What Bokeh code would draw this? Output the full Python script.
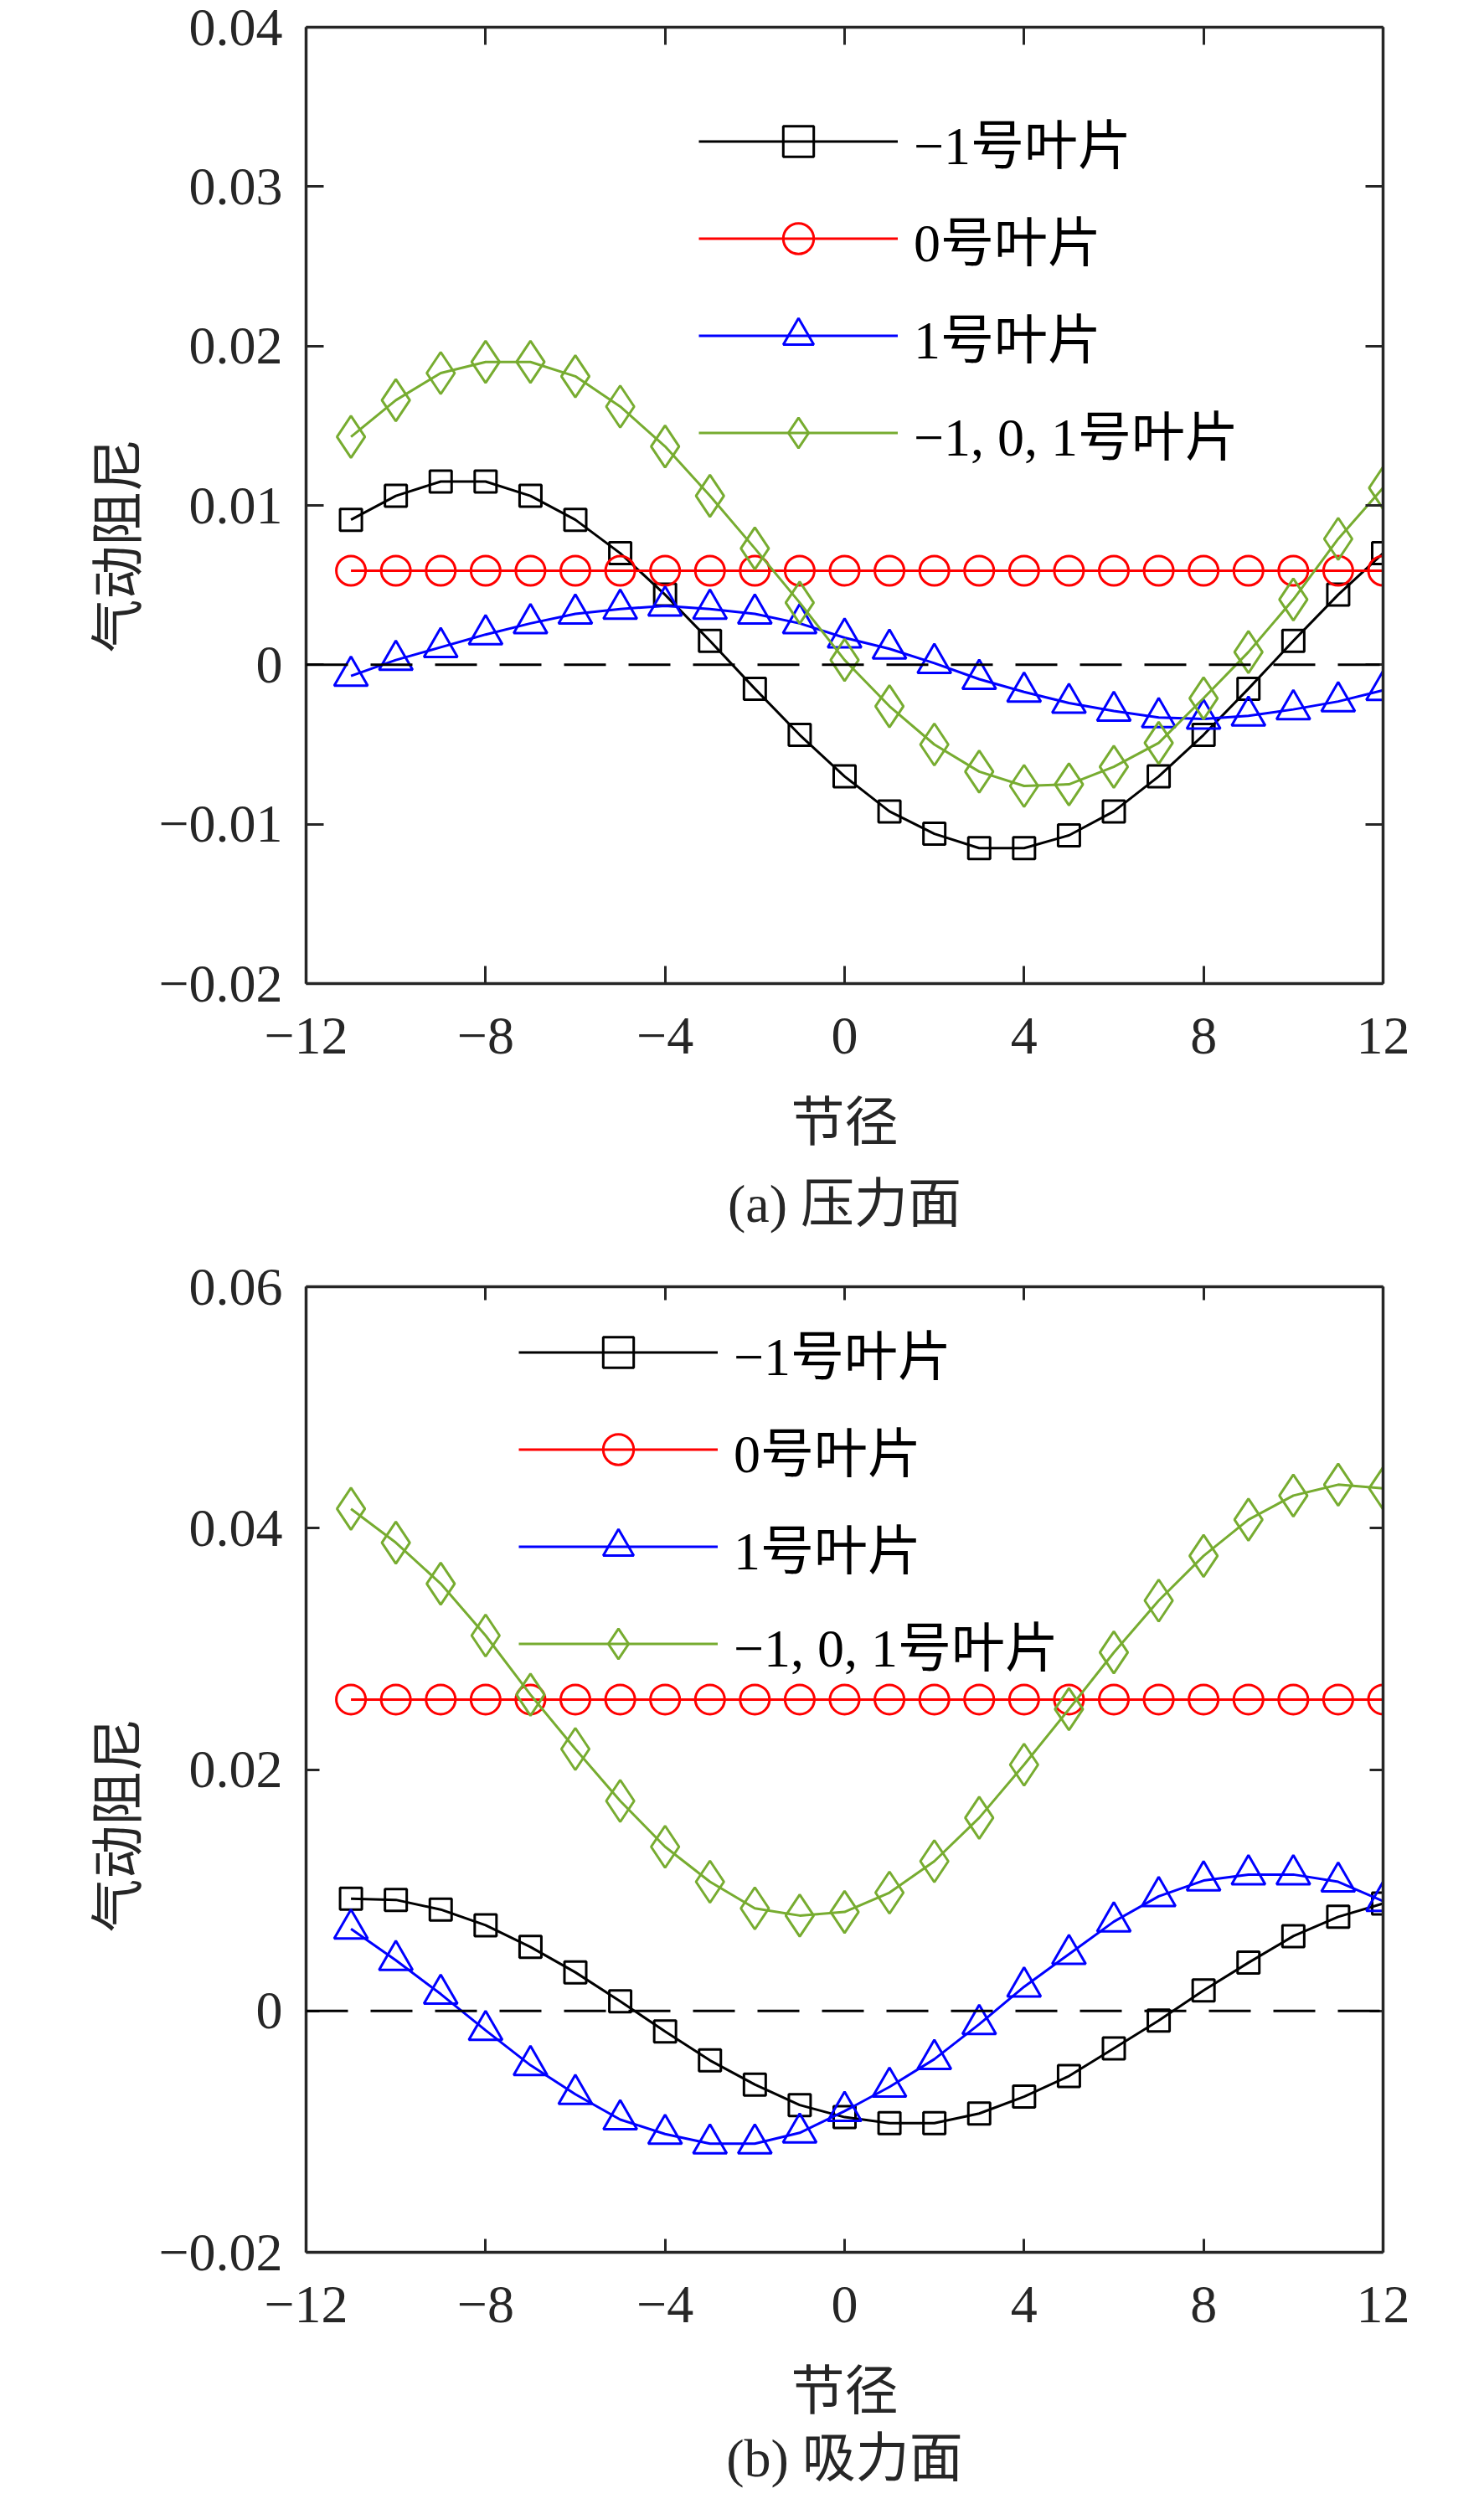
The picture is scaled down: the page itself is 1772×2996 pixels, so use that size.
import numpy as np
from bokeh.plotting import figure
from bokeh.models import Range1d, LinearAxis, FixedTicker, Span, Legend, LegendItem, Title
from bokeh.layouts import column
from bokeh.embed import file_html
from bokeh.resources import INLINE

# node diameter (节径)
nd = [-11, -10, -9, -8, -7, -6, -5, -4, -3, -2, -1, 0,
      1, 2, 3, 4, 5, 6, 7, 8, 9, 10, 11, 12]

# (a) pressure side - aerodynamic damping
ps_m1 = [0.0091, 0.0106, 0.0115, 0.0115, 0.0106, 0.0091, 0.0070, 0.0044, 0.0015, -0.0015, -0.0044, -0.0070,
         -0.0092, -0.0106, -0.0115, -0.0115, -0.0107, -0.0092, -0.0070, -0.0044, -0.0015, 0.0015, 0.0044, 0.0070]
ps_0 = [0.0059, 0.0059, 0.0059, 0.0059, 0.0059, 0.0059, 0.0059, 0.0059, 0.0059, 0.0059, 0.0059, 0.0059,
        0.0059, 0.0059, 0.0059, 0.0059, 0.0059, 0.0059, 0.0059, 0.0059, 0.0059, 0.0059, 0.0059, 0.0059]
ps_p1 = [-0.0007, 0.0003, 0.0011, 0.0019, 0.0026, 0.0032, 0.0035, 0.0037, 0.0035, 0.0032, 0.0026, 0.0017,
         0.0010, 0.0001, -0.0009, -0.0017, -0.0024, -0.0029, -0.0033, -0.0034, -0.0032, -0.0028, -0.0023, -0.0016]
ps_all = [0.0143, 0.0166, 0.0183, 0.0190, 0.0190, 0.0181, 0.0162, 0.0137, 0.0106, 0.0073, 0.0039, 0.0003,
          -0.0026, -0.0050, -0.0067, -0.0076, -0.0075, -0.0064, -0.0049, -0.0021, 0.0008, 0.0041, 0.0079, 0.0111]

# (b) suction side
ss_m1 = [0.0093, 0.0092, 0.0084, 0.0071, 0.0053, 0.0032, 0.0008, -0.0017, -0.0041, -0.0061, -0.0078, -0.0088,
         -0.0093, -0.0093, -0.0085, -0.0071, -0.0054, -0.0031, -0.0008, 0.0017, 0.0040, 0.0062, 0.0078, 0.0089]
ss_0 = [0.0258, 0.0258, 0.0258, 0.0258, 0.0258, 0.0258, 0.0258, 0.0258, 0.0258, 0.0258, 0.0258, 0.0258,
        0.0258, 0.0258, 0.0258, 0.0258, 0.0258, 0.0258, 0.0258, 0.0258, 0.0258, 0.0258, 0.0258, 0.0258]
ss_p1 = [0.0068, 0.0042, 0.0014, -0.0016, -0.0045, -0.0069, -0.0090, -0.0102, -0.0110, -0.0110, -0.0101, -0.0083,
         -0.0063, -0.0040, -0.0011, 0.0020, 0.0047, 0.0074, 0.0095, 0.0108, 0.0113, 0.0113, 0.0107, 0.0091]
ss_all = [0.0416, 0.0388, 0.0354, 0.0311, 0.0262, 0.0217, 0.0174, 0.0136, 0.0107, 0.0085, 0.0079, 0.0082,
          0.0098, 0.0124, 0.0160, 0.0204, 0.0250, 0.0297, 0.0340, 0.0377, 0.0407, 0.0427, 0.0436, 0.0433]

series_labels = ["\u22121号叶片", "0号叶片", "1号叶片", "\u22121, 0, 1号叶片"]

x_ticks = [-12, -8, -4, 0, 4, 8, 12]
x_tick_labels = ["\u221212", "\u22128", "\u22124", "0", "4", "8", "12"]
ps_y_ticks = [-0.02, -0.01, 0, 0.01, 0.02, 0.03, 0.04]
ps_y_tick_labels = ["\u22120.02", "\u22120.01", "0", "0.01", "0.02", "0.03", "0.04"]
ss_y_ticks = [-0.02, 0, 0.02, 0.04, 0.06]
ss_y_tick_labels = ["\u22120.02", "0", "0.02", "0.04", "0.06"]

FONT = "Liberation Serif, Noto Sans CJK SC"
AX = "#262626"
colors = ["#000000", "#FF0000", "#0000FF", "#77AC30"]
markers = ["square", "circle", "triangle", "diamond"]
msizes = [26, 35, 40, 50]


def style_axis(ax, ticks, labels, tick_len, show_labels=True):
    ax.ticker = FixedTicker(ticks=ticks)
    ax.minor_tick_line_color = None
    ax.major_tick_in = tick_len
    ax.major_tick_out = 0
    ax.major_tick_line_width = 3
    ax.major_tick_line_color = AX
    ax.axis_line_width = 3.5
    ax.axis_line_color = AX
    if show_labels:
        ax.major_label_overrides = {float(t): l for t, l in zip(ticks, labels)}
        ax.major_label_text_font = FONT
        ax.major_label_text_font_size = "64px"
        ax.major_label_text_color = AX
    else:
        ax.major_label_text_font_size = "1px"
        ax.major_label_text_color = None
        ax.major_label_standoff = 0


def make_panel(ys, yr, yticks, ylabels, caption, height, bb, bt, legend_loc, tick_len,
               ylab_offset, cap_standoff):
    p = figure(width=1756, height=height, x_range=Range1d(-12, 12), y_range=Range1d(*yr),
               output_backend="svg", toolbar_location=None, title=None,
               min_border_left=365, min_border_right=105, min_border_top=bt, min_border_bottom=bb,
               outline_line_color=None)
    p.grid.visible = False

    style_axis(p.xaxis[0], x_ticks, x_tick_labels, tick_len)
    style_axis(p.yaxis[0], yticks, ylabels, tick_len)
    p.xaxis[0].major_label_standoff = 41
    p.yaxis[0].major_label_standoff = 28
    p.xaxis[0].axis_label = "节径"
    p.xaxis[0].axis_label_text_font = FONT
    p.xaxis[0].axis_label_text_font_size = "64px"
    p.xaxis[0].axis_label_text_font_style = "normal"
    p.xaxis[0].axis_label_text_color = AX
    p.xaxis[0].axis_label_standoff = 44

    top = LinearAxis()
    style_axis(top, x_ticks, x_tick_labels, tick_len, show_labels=False)
    p.add_layout(top, "above")
    right = LinearAxis()
    style_axis(right, yticks, ylabels, tick_len, show_labels=False)
    p.add_layout(right, "right")

    # y label placed a little below the frame centre, as in the source figure
    p.add_layout(Title(text="气动阻尼", align="left", offset=ylab_offset, text_font=FONT,
                       text_font_size="64px", text_font_style="normal", text_color=AX,
                       standoff=20), "left")

    p.add_layout(Span(location=0, dimension="width", line_color="black",
                      line_width=3, line_dash="50 27"))

    items = []
    for vals, lab, c, m, s in zip(ys, series_labels, colors, markers, msizes):
        lr = p.line(nd, vals, line_color=c, line_width=3)
        sr = p.scatter(nd, vals, marker=m, size=s, line_color=c, line_width=3, fill_color=None)
        items.append(LegendItem(label=lab, renderers=[lr, sr]))

    leg = Legend(items=items, location=legend_loc, glyph_width=238, glyph_height=91,
                 label_height=91, spacing=24, label_standoff=19, padding=0, margin=0,
                 border_line_alpha=0, background_fill_alpha=0,
                 label_text_font=FONT, label_text_font_size="64px", label_text_color="black")
    p.add_layout(leg)

    # sub-figure caption under the x label
    p.add_layout(Title(text=caption, align="center", text_font=FONT, text_font_size="64px",
                       text_font_style="normal", text_color=AX, standoff=cap_standoff), "below")
    return p


p1 = make_panel([ps_m1, ps_0, ps_p1, ps_all], (-0.02, 0.04), ps_y_ticks, ps_y_tick_labels,
                "(a) 压力面", 1500, 326, 32, (469, 612), 21, 395, 43)
p2 = make_panel([ss_m1, ss_0, ss_p1, ss_all], (-0.02, 0.06), ss_y_ticks, ss_y_tick_labels,
                "(b) 吸力面", 1480, 291, 36, (254, 681), 16, 382, 8)

layout = column(p1, p2)
open("out.html", "w").write(file_html(layout, INLINE))
